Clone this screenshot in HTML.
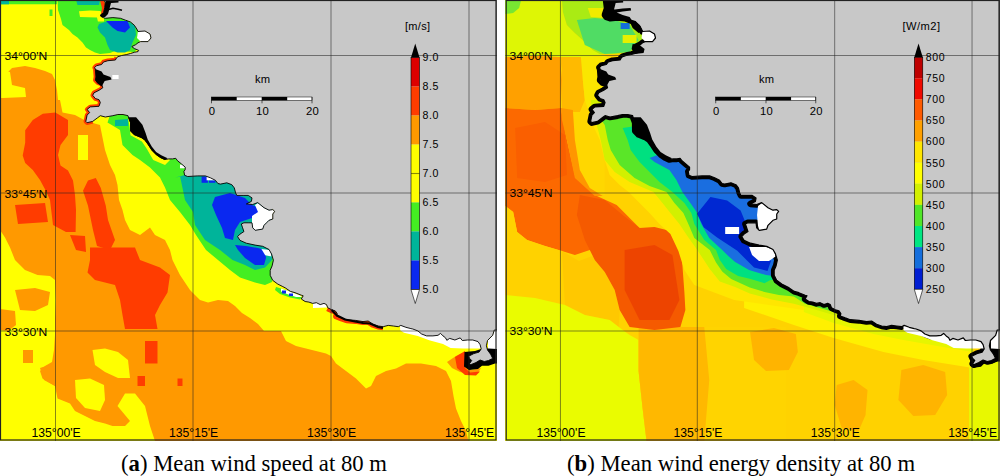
<!DOCTYPE html>
<html><head><meta charset="utf-8"><style>
html,body{margin:0;padding:0;background:#fff;}
body{width:1000px;height:476px;position:relative;overflow:hidden;font-family:"Liberation Sans",sans-serif;}
.map{position:absolute;font-family:"Liberation Sans",sans-serif;}
.cap{position:absolute;top:451px;font-family:"Liberation Serif",serif;font-size:22.7px;color:#000;white-space:nowrap;}
</style></head><body>
<svg class="map" style="left:0px;top:0px" width="497" height="441" viewBox="0 0 497 441">
<rect x="0" y="0" width="497" height="441" fill="#ff9900"/>
<polygon points="0,85 5,75 12,68 25,66 35,68 45,71 52,74 55,80 57,90 58,100 60,100 62.5,112.5 75,115 86,121 100,125 102.5,137.5 105,150 110,165 115,175 117.5,185 119,200 122.5,210 125,220 130,230 140,235 150,227.5 155,235 165,240 170,250 172.5,260 180,275 190,290 200,300 208,302.5 218,300 228,301 235,306 242,313 250,318 258,324 264,331 281,331 286,341 296,346 306,348.5 316,351 326,353.5 331,356 336,363.5 346,371 356,378.5 366,388.5 371,386 376,376 386,371 396,368.5 406,363.5 421,363.5 436,366 446,371 451,381 453.5,396 456,408.5 461,421 466,431 468.5,441 497,441 497,0 0,0" fill="#ffff00" />
<polygon points="0,230 5,237.5 10,247.5 15,260 25,270 37.5,275 50,276 55,280 56,300 55,320 55,335 54,350 52,362 45,366 40,371 42.5,378.5 55,386 57.5,398.5 70,403.5 75,411 85,416 95,421 105,423.5 112.5,426 125,426 130,421 117.5,406 125,393.5 135,393.5 145,406 150,426 155,441 0,441" fill="#ffff00" />
<polygon points="15,290 35,288 50,292 48,305 35,311 20,310" fill="#ff9900" />
<polygon points="0,309 15,311 16,325 8,331 0,330" fill="#ff9900" />
<polygon points="23,350 33,350 33,363 23,363" fill="#ff9900" />
<polygon points="40,368 52,364 56,372 55,386 44,380" fill="#ff9900" />
<polygon points="92.5,350 105,348.5 118,352 128,360 130,378 118,378 105,372 95,365" fill="#ffff00" />
<polygon points="75,380 90,378.5 104,385 105,400 100,411 85,408 76,398" fill="#ffff00" />
<polygon points="32.8,120 42.8,113.8 55.4,112.6 68,120 68,135 60.5,145 58,155 60.5,165.5 68,170.5 73,180.6 75,195 76,210 75.6,232 66,232 53,225 50,200 45.4,190 40,180 32.8,170 25.2,163 22.7,155.4 25.2,142.8 25.2,130.2" fill="#ff3c00" />
<polygon points="88,180.6 95.8,178 100.8,188 105.8,205.8 108,220 115,240 110,250 97,246 93,230 88,205.8 83,190.7" fill="#ff3c00" />
<polygon points="0,70 10,72 12,85 25,88 26,97 3,98 0,98" fill="#ffff00" />
<polygon points="78,135 88,135 88,160 78,160" fill="#ffff00" />
<polygon points="90,247.5 135,247.5 140,260 160,267.5 170,275 167.5,292.5 160,305 155,315 157.5,329 125,329 122.5,315 120,300 115,285 105,282.5 95,280 87.5,272.5 90,260" fill="#ff3c00" />
<polygon points="70,235 85,236 86,252 76,250" fill="#ff3c00" />
<polygon points="15,205 45,203 48,222 18,224" fill="#ff3c00" />
<polygon points="145,341 157.5,341 157.5,363.5 145,363.5" fill="#ff3c00" />
<polygon points="137.5,376 145,376 145,386 137.5,386" fill="#ff3c00" />
<polygon points="177.5,378.5 182.5,378.5 182.5,386 177.5,386" fill="#ff3c00" />
<polygon points="57.5,0 58,10 61,19 62.5,25 69,30 72.5,34 77.5,37.5 82.5,42.5 86,47.5 90,50 95,52.5 100,54 110,53 115,51 135,52 140,40 140,0" fill="#44ee22" />
<polygon points="76,0 100,0 99,5 77.5,5" fill="#00b49a" />
<polygon points="1,0.5 57,0.5 57,4.3 1,4.3" fill="#44ee22" />
<polygon points="1,0.5 9,0.5 9,4.3 1,4.3" fill="#00b49a" />
<polygon points="49.5,9.5 52.5,9.5 52.5,16 49.5,16" fill="#44ee22" />
<polygon points="79,11.3 90,10.5 100.4,11 104,17.6 104,21.4 97.9,21.4 97,17.6 80,17" fill="#ffff00" />
<polygon points="99,24 105,22 110,21 120,21 130,22.5 135,26 136,35 132.5,42.5 130,50 125,52.5 117.5,52.5 110,50 107.5,45 105,37.5 100,32.5 97.5,27.5" fill="#00b49a" />
<polygon points="106,21 127.5,21 130,27.5 125,32.5 117.5,31 112.5,27.5" fill="#0a28f0" />
<polygon points="107.5,122.5 120,130 122.5,145 132.5,155 140,160 150,167.5 160,177.5 165,187.5 170,200 180,212 190,225 196,235 206,250 218,260 230,270 240,277.5 255,282.5 265,285 272,282 280,250 260,200 200,170 150,140 130,115 110,115" fill="#44ee22" />
<polygon points="128,118 129.3,125.2 130.5,135.3 141.9,141.6 146.9,149 153.2,160 165,165 170,160 150,140 140,125 135,115" fill="#ffff00" />
<polygon points="115,120 128,119 128,126 115,126" fill="#00b49a" />
<polygon points="175,178 180,176 185,200 193,212 195,225 205,240 220,250 232.5,260 245,265 255,270 265,267.5 272,260 272,200 240,175 200,170" fill="#00b49a" />
<polygon points="215,197 230,193 245,198 252,205 260,208 260,215 252,218 240,222 235,230 233,240 225,238 222,228 216,215 212,205" fill="#0a28f0" />
<polygon points="235,245 246,246 258,248 265,250 266,258 264,265 255,265 245,258 238,250" fill="#0a28f0" />
<polygon points="201.6,176.5 207.9,176.5 207.9,182.8 201.6,182.8" fill="#0a28f0" />
<polygon points="209,180.3 215.4,180.3 215.4,182.8 209,182.8" fill="#0a28f0" />
<polygon points="138,31 145,31 150,34 151,38 148,41.6 140.6,41.6 137,38" fill="#ffffff" />
<polygon points="255,205 258,203 264,207.7 269,210.2 272.8,209.6 274.7,211.4 272.8,214 272.8,219 269,220.3 266.5,222.8 264,225.3 262.7,229.1 255.2,230.3 252.7,227.8 252,222.8 252,216 258,212" fill="#ffffff" />
<polygon points="261.4,248.9 270.2,250.1 271.5,256.4 265.2,255.2" fill="#ffffff" />
<polygon points="206.6,176.5 215.4,176.5 215.4,180.3 206.6,180.3" fill="#ffffff" />
<polygon points="180,164.6 185.8,164.6 185.8,168.3 180,168.3" fill="#ffffff" />
<polygon points="276,287 286,290 296,294 302,297 300,299.5 290,297.5 280,294 275,290" fill="#44ee22" />
<polygon points="281,288.5 290,291.5 300,295.5 302,297 296,297 287,294 281,291.5" fill="#ffffff" />
<polygon points="282,290.5 286,290.5 286,293.5 282,293.5" fill="#0a28f0" />
<polygon points="289,293.5 293,293.5 293,296 289,296" fill="#0a28f0" />
<polygon points="313,303 326,303 327,307.5 313,308" fill="#ffffff" />
<polygon points="400,325 420,325 446,330 480,335 481,348.5 463.2,348.5 450.6,347.9 443,344.1 429.2,340.3 417.8,335.9 404,332.7 400.2,330.2" fill="#ffffff" />
<polygon points="488,340 492.7,335.3 494.3,330 497,330 497,349 488,349" fill="#ffffff" />
<polygon points="447,362 456,356 460,354 466,352 467,366 472,370 481,368 478,373 470,374 460,372 452,368" fill="#ff9900" />
<polygon points="455,357 465,351 465,368 470,372.5 480,371.5 476,375.5 465,375 457,368" fill="#ff3c00" />
<polygon points="464.5,352 464,366.5 469,370 478,369 482,365.8 488.5,365.8 495,363.5 497,363.5 497,349 488.5,348.4 481,349 475,351" fill="#000000" />
<polyline points="116.7,57.6 115.4,60 107.9,60.7 103.5,62 101.6,64.5 96.5,65.7 94.6,67.6 95.3,69 95.9,77 95.3,80.2 97.8,82.7 101.6,84 102.8,87.8 99,90.3 94,92.8 92.7,95.3 95.3,98.5 99,99.7 100.3,102.5 99,106.3 90.2,106.9 87.1,109.4 89.6,112.6 87.1,115.1 85.8,121.4 87.1,122.7 92.7,121.4" fill="none" stroke="#ff3c00" stroke-width="4.5" stroke-linejoin="round"/>
<polyline points="102,0 104,8 103,14" fill="none" stroke="#ff3c00" stroke-width="4"/>
<polyline points="327.8,307.8 331.6,309.7 335.3,310.9 337.2,313.5 336.6,316 341.6,317.9 346.7,319.7 355.5,320.4 363,321.6 368.1,321 373.1,324.2 378.2,326 383.2,326.7" fill="none" stroke="#ff3c00" stroke-width="7" stroke-linejoin="round"/>
<polygon points="104,0 105.3,2.5 104.7,7.6 103.5,12.6 100.3,15.1 101.6,17 105.3,18.3 112.9,17.6 120.5,18.3 125.5,20.2 130.5,22 134.3,25.2 136.8,29 138,31.5 145,31 150,34 151,38 148,41.6 140.6,41.6 138,42.8 135.6,44.7 131.8,46.6 134.3,48.5 138.7,50.4 138,51.6 134.3,52.3 130.5,53.5 126.8,54.5 121.7,55.5 118,56.7 116.7,57.6 115.4,60 107.9,60.7 103.5,62 101.6,64.5 96.5,65.7 94.6,67.6 95.3,69 95.9,77 95.3,80.2 97.8,82.7 101.6,84 102.8,87.8 99,90.3 94,92.8 92.7,95.3 95.3,98.5 99,99.7 100.3,102.5 99,106.3 90.2,106.9 87.1,109.4 89.6,112.6 87.1,115.1 85.8,121.4 87.1,122.7 92.7,121.4 97.8,117.6 100.3,115.7 105.3,117 112.9,115.7 117.9,114.5 123,114.5 128,115.7 128.5,117.4 130.5,122.6 130.6,131 134.2,134.6 141.5,137.6 144.8,139.8 147.9,144 152,150.2 156.3,154.5 160.6,157.6 164.8,159.6 168.8,158.9 172.6,158.9 175.7,158.3 177.6,160.8 181.4,163.9 185.2,167.1 185.2,169.6 183.9,171.5 184.6,175.3 187.7,176.5 197.8,175.9 205.3,175.9 210.4,177.8 215.4,180.3 217.9,183.5 220.5,184.1 226.8,182.8 231.8,184.7 234.3,187.9 235.6,192.9 236.8,195.4 243.1,195.4 248.2,195.4 252,197.9 251.4,201.4 246.4,203.9 252.7,204.5 257.7,202.6 264,207.7 269,210.2 272.8,209.6 274.7,211.4 272.8,214 272.8,219 269,220.3 266.5,222.8 264,225.3 262.7,229.1 255.2,230.3 252.7,227.8 252,222.8 248.9,222.8 243.9,222.8 241.3,224 242.6,227.8 243.9,231.6 240,234.1 237.6,236.6 240,240.4 246.3,243.2 255.1,245.1 262.7,246.3 269,249.5 271.5,253.9 273.4,260.2 272.1,265.9 270.2,270.3 270.2,275.3 272.7,280.3 277.8,284.1 282.8,286.6 285.3,287.9 290.4,291.4 295,292.7 301.3,295.2 303.2,295.8 301.3,299 305.1,301.5 308.9,302.1 312.7,303.4 316.4,302.7 320.2,304.6 324,303.4 326.5,304.6 327.8,307.8 331.6,309.7 335.3,310.9 337.2,313.5 336.6,316 341.6,317.9 346.7,319.7 355.5,320.4 363,321.6 368.1,321 373.1,324.2 378.2,326 383.2,326.7 388.2,325.4 393.3,326 398.3,326.7 400.8,325.4 405.9,327.3 410.9,328.6 412.8,329 417.8,330.9 421.6,334 426.6,335.9 432.9,335.9 438,335.3 440.5,333.4 443,335.9 445.5,337.8 446.8,340.3 449.7,338.4 454.9,340 460.2,337.9 462.3,340.5 467.5,340 472.8,340 478,341.6 480.1,344.7 481.2,348.9 479.1,352.1 473.8,353.6 468.6,356.3 469.6,358.4 471.7,360.5 469.6,363.6 470.7,364.7 475.9,362.6 480.1,360 484.3,361.5 488.5,360.5 492.7,358.4 490.6,354.2 487.5,350 486.4,345.8 487.5,340.5 492.7,335.3 494.3,330 497,330 497,-1 104,-1" fill="#c8c8c8" stroke="#000" stroke-width="0.9"/>
<polygon points="106,0 118.5,0 118.5,2.5 111,3 109.7,8 108,13.9 105,17 101,17 100.3,15.1 103.5,12.6 104.7,7.6 105.3,2.5" fill="#000000" />
<polygon points="95.3,68.9 101.6,71.4 103.5,74.6 110.4,77 111.6,79.6 104.7,80.9 101.6,86.5 97,83 95.3,80.2 95.9,77" fill="#000000" />
<polygon points="112.3,75 118.6,75 118.6,79 112.3,79" fill="#ffffff" />
<polyline points="108.5,9.5 113,8.2 118,9.2 122,10.3" fill="none" stroke="#000" stroke-width="1.6"/>
<polygon points="128,117.2 128.1,117.4 130.1,122.6 130.2,131 134,135 141.3,138 144.5,140.2 147.5,144.3 151.6,150.5 156,154.9 160.4,158 164.8,160.1 167.6,158.3 161.3,155.2 156.1,152 151.9,146.8 147.7,139.4 145.6,133.1 142.4,124.7 136.1,117.2" fill="#000000" />
<polyline points="331.6,310 337,315.5 345,319.5 355,321.5 363,323 370,323.5 378,327 383,328" fill="none" stroke="#000" stroke-width="2.2"/>
<line x1="55.5" y1="0" x2="55.5" y2="441" stroke="#222" stroke-width="0.9" opacity="0.6"/>
<line x1="193" y1="0" x2="193" y2="441" stroke="#222" stroke-width="0.9" opacity="0.6"/>
<line x1="331" y1="0" x2="331" y2="441" stroke="#222" stroke-width="0.9" opacity="0.6"/>
<line x1="469" y1="0" x2="469" y2="441" stroke="#222" stroke-width="0.9" opacity="0.6"/>
<line x1="0" y1="55.5" x2="497" y2="55.5" stroke="#222" stroke-width="0.9" opacity="0.6"/>
<line x1="0" y1="193" x2="497" y2="193" stroke="#222" stroke-width="0.9" opacity="0.6"/>
<line x1="0" y1="331" x2="497" y2="331" stroke="#222" stroke-width="0.9" opacity="0.6"/>
<text x="4.4" y="60.0" font-size="11.4" textLength="43" lengthAdjust="spacingAndGlyphs">34°00'N</text>
<text x="4.4" y="197.5" font-size="11.4" textLength="43" lengthAdjust="spacingAndGlyphs">33°45'N</text>
<text x="4.4" y="335.5" font-size="11.4" textLength="43" lengthAdjust="spacingAndGlyphs">33°30'N</text>
<text x="56.1" y="436.8" font-size="12.2" text-anchor="middle">135°00'E</text>
<text x="193.6" y="436.8" font-size="12.2" text-anchor="middle">135°15'E</text>
<text x="331.6" y="436.8" font-size="12.2" text-anchor="middle">135°30'E</text>
<text x="469.6" y="436.8" font-size="12.2" text-anchor="middle">135°45'E</text>
<rect x="411" y="57.5" width="8.5" height="29" fill="#dd0000"/>
<rect x="411" y="86.5" width="8.5" height="29" fill="#ff3c00"/>
<rect x="411" y="115.5" width="8.5" height="29" fill="#ff9900"/>
<rect x="411" y="144.5" width="8.5" height="29" fill="#ffff00"/>
<rect x="411" y="173.5" width="8.5" height="29" fill="#ffff00"/>
<rect x="411" y="202.5" width="8.5" height="29" fill="#44ee22"/>
<rect x="411" y="231.5" width="8.5" height="29" fill="#00b49a"/>
<rect x="411" y="260.5" width="8.5" height="29" fill="#0a28f0"/>
<line x1="411" y1="173.5" x2="419.5" y2="173.5" stroke="#8a8a00" stroke-width="1.1"/>
<rect x="411" y="57.5" width="8.5" height="232" fill="none" stroke="#000" stroke-width="0.6"/>
<polygon points="411,57.5 415.25,43.5 419.5,57.5" fill="#000"/>
<polygon points="411,289.5 415.25,303.5 419.5,289.5" fill="#fff" stroke="#000" stroke-width="0.6"/>
<text x="422.6" y="61.4" font-size="10.6" letter-spacing="0.55">9.0</text>
<text x="422.6" y="90.4" font-size="10.6" letter-spacing="0.55">8.5</text>
<text x="422.6" y="119.4" font-size="10.6" letter-spacing="0.55">8.0</text>
<text x="422.6" y="148.4" font-size="10.6" letter-spacing="0.55">7.5</text>
<text x="422.6" y="177.4" font-size="10.6" letter-spacing="0.55">7.0</text>
<text x="422.6" y="206.4" font-size="10.6" letter-spacing="0.55">6.5</text>
<text x="422.6" y="235.4" font-size="10.6" letter-spacing="0.55">6.0</text>
<text x="422.6" y="264.4" font-size="10.6" letter-spacing="0.55">5.5</text>
<text x="422.6" y="293.4" font-size="10.6" letter-spacing="0.55">5.0</text>
<text x="405" y="29.7" font-size="11" letter-spacing="0.3">[m/s]</text>
<rect x="211.5" y="97" width="100.5" height="3.3" fill="#fff" stroke="#000" stroke-width="0.5"/>
<rect x="211.5" y="97" width="25.2" height="3.3" fill="#000"/>
<rect x="262.0" y="97" width="25.2" height="3.3" fill="#000"/>
<line x1="211.5" y1="97" x2="211.5" y2="103.3" stroke="#000" stroke-width="0.6"/>
<line x1="262.0" y1="97" x2="262.0" y2="103.3" stroke="#000" stroke-width="0.6"/>
<line x1="312.0" y1="97" x2="312.0" y2="103.3" stroke="#000" stroke-width="0.6"/>
<text x="262.5" y="83.2" font-size="11.2" text-anchor="middle">km</text>
<text x="212.0" y="114.7" font-size="11.3" letter-spacing="0.3" text-anchor="middle">0</text>
<text x="262.5" y="114.7" font-size="11.3" letter-spacing="0.3" text-anchor="middle">10</text>
<text x="312.5" y="114.7" font-size="11.3" letter-spacing="0.3" text-anchor="middle">20</text>
<rect x="0.5" y="0.5" width="495.5" height="439.5" fill="none" stroke="#222" stroke-width="1.2"/>
</svg>
<svg class="map" style="left:0px;top:0px" width="1000" height="441" viewBox="0 0 1000 441">
<g transform="translate(505.2,0) scale(0.9954,1)">
<clipPath id="rc"><rect x="0" y="0" width="497" height="441"/></clipPath>
<g clip-path="url(#rc)">
<rect x="-2" y="0" width="500" height="441" fill="#ffd200"/>
<polygon points="0,0 57,0 58,12 62,25 70,33 80,42 88,50 95,54 100,56 75,58 55,57 30,56 0,57" fill="#def605" />
<polygon points="0,0 16,0 14,8 8,13 0,14" fill="#78e632" />
<polygon points="0,57 30,56 55,57 57,80 56,108 30,110 0,108" fill="#ffa000" />
<polygon points="55,57 75,58 100,56 110,60 100,110 90,114 88,125 100,150 100,195 75,185 60,150 58,110 57,70" fill="#ffd700" />
<polygon points="55,57 78,57 78,80 80,100 75,112 57,112 57,70" fill="#ffba00" />
<polygon points="76,57 100,56 110,60 100,110 90,114 86,118 80,100 78,80" fill="#fae600" />
<polygon points="0,108 30,110 56,108 58,120 62,140 70,175 90,195 112,205 125,218 135,228 118,232 100,240 85,250 70,255 57,251 40,246 22,240 12,232 8,212 0,206" fill="#fc6900" />
<polygon points="10,128 40,122 60,135 62,175 40,182 12,178" fill="#fa5f00" />
<polygon points="56,108 68,110 70,140 75,170 85,188 98,196 90,196 70,178 62,140 57,120" fill="#ff9600" />
<polygon points="0,206 8,212 12,232 22,240 40,246 57,251 60,270 57,310 0,310" fill="#ffd200" />
<polygon points="57,251 74,261 90,255 94,261 100,272 110,290 115,310 114,327 105,320 80,315 60,305" fill="#ffc800" />
<polygon points="0,295 30,298 60,305 80,315 105,320 114,327 125,335 134,340 134,371 138,408 142,441 0,441" fill="#eafc00" />
<polygon points="134,327 200,327 282,327 282,441 142,441 138,408 134,371" fill="#ffd400" />
<polygon points="134,327 200,327 205,380 200,441 142,441 138,408 134,371" fill="#ffb800" />
<polygon points="246,332 270,328 292,334 294,352 285,370 262,371 250,360" fill="#ffb400" />
<polygon points="333,385 350,380 364,390 362,415 355,431 338,428 331,405" fill="#ffb400" />
<polygon points="398,370 420,365 442,372 444,395 432,415 410,416 395,400" fill="#ffb400" />
<polygon points="466,360 497,350 497,441 466,441" fill="#e8f800" />
<polygon points="240,285 290,300 330,312 380,326 420,334 470,345 470,368 420,360 380,352 330,338 290,325 240,308" fill="#fff000" />
<polygon points="300,300 330,311 370,322 400,328 440,336 470,342 470,352 440,347 400,340 370,334 330,323 300,312" fill="#e6f500" />
<polygon points="75,195 100,200 118,215 135,228 150,227 170,232 176,245 178,265 180,292 181,310 176,327 150,330 125,327 115,310 110,290 100,272 90,260 80,240 72,215" fill="#f55a00" />
<polygon points="120,250 150,245 168,255 175,300 165,320 135,320 120,290" fill="#ed4400" />
<polygon points="88,125 95,140 100,160 105,175 115,185 124,192 135,203 145,213 155,224 166,234 174,251 180,270 190,285 230,300 300,310 300,100 88,100" fill="#ffe600" />
<polygon points="86,118 92,125 96,140 100,160 110,172 125,182 149,192 158,203 166,213 175,224 183,236 193,250 205.5,269 215.6,281.5 231,287 245.7,293.5 267.8,299.4 290,303.8 312,309.7 340,318 340,100 86,100" fill="#d2f000" />
<polygon points="95,118 100,125 103,140 106,150 115,165 130,178 145,186 162,192 170,203 179,213 184,224 190,238 205.5,250 211.8,262.6 218,271.4 227,279 245.7,287.6 260.5,292 275,295 290,296.5 301,303.8 330,312 330,100" fill="#5ae628" />
<polygon points="118,128 123,140 126,150 135,162 145,172 155,182 168,192 180,203 187,213 190,224 200,240 211.8,250 215.6,260 222,269 234,276 245.7,278.8 260.5,283.2 266,280.3 272,279 300,100" fill="#00e080" />
<polygon points="145,158 150,162 165,170 172,180 178,192 186,203 193,213 197,224 205,238 218,250 224.4,256.3 231,262 245,270 262,275 270,276 300,100" fill="#1a6ee0" />
<polygon points="192.7,213.8 206.2,197 223,200.4 236.5,210.5 243.3,227.3 250,244 267,260.9 263.5,271 250,267.6 233.2,250.8 212.9,237.4 199.4,227.3" fill="#0028d2" />
<polygon points="57,0 58,12 62,25 70,33 80,42 88,50 95,54 110,54 140,50 140,0" fill="#aaeb14" />
<polygon points="72,20 90,18 110,20 125,25 134,40 125,52 100,54 80,45" fill="#50dc64" />
<polygon points="83,8 99,8 100,18 86,17" fill="#f0eb00" />
<polygon points="116,23 125,23 125,29 116,29" fill="#146edc" />
<polygon points="118,35 132,35 132,43 118,43" fill="#e6f000" />
<polygon points="104,0 105.3,2.5 104.7,7.6 103.5,12.6 100.3,15.1 101.6,17 105.3,18.3 112.9,17.6 120.5,18.3 125.5,20.2 130.5,22 134.3,25.2 136.8,29 138,31.5 145,31 150,34 151,38 148,41.6 140.6,41.6 138,42.8 135.6,44.7 131.8,46.6 134.3,48.5 138.7,50.4 138,51.6 134.3,52.3 130.5,53.5 126.8,54.5 121.7,55.5 118,56.7 116.7,57.6 115.4,60 107.9,60.7 103.5,62 101.6,64.5 96.5,65.7 94.6,67.6 95.3,69 95.9,77 95.3,80.2 97.8,82.7 101.6,84 102.8,87.8 99,90.3 94,92.8 92.7,95.3 95.3,98.5 99,99.7 100.3,102.5 99,106.3 90.2,106.9 87.1,109.4 89.6,112.6 87.1,115.1 85.8,121.4 87.1,122.7 92.7,121.4 97.8,117.6 100.3,115.7 105.3,117 112.9,115.7 117.9,114.5 123,114.5 128,115.7 128.5,117.4 130.5,122.6 130.6,131 134.2,134.6 141.5,137.6 144.8,139.8 147.9,144 152,150.2 156.3,154.5 160.6,157.6 164.8,159.6 168.8,158.9 172.6,158.9 175.7,158.3 177.6,160.8 181.4,163.9 185.2,167.1 185.2,169.6 183.9,171.5 184.6,175.3 187.7,176.5 197.8,175.9 205.3,175.9 210.4,177.8 215.4,180.3 217.9,183.5 220.5,184.1 226.8,182.8 231.8,184.7 234.3,187.9 235.6,192.9 236.8,195.4 243.1,195.4 248.2,195.4 252,197.9 251.4,201.4 246.4,203.9 252.7,204.5 257.7,202.6 264,207.7 269,210.2 272.8,209.6 274.7,211.4 272.8,214 272.8,219 269,220.3 266.5,222.8 264,225.3 262.7,229.1 255.2,230.3 252.7,227.8 252,222.8 248.9,222.8 243.9,222.8 241.3,224 242.6,227.8 243.9,231.6 240,234.1 237.6,236.6 240,240.4 246.3,243.2 255.1,245.1 262.7,246.3 269,249.5 271.5,253.9 273.4,260.2 272.1,265.9 270.2,270.3 270.2,275.3 272.7,280.3 277.8,284.1 282.8,286.6 285.3,287.9 290.4,291.4 295,292.7 301.3,295.2 303.2,295.8 301.3,299 305.1,301.5 308.9,302.1 312.7,303.4 316.4,302.7 320.2,304.6 324,303.4 326.5,304.6 327.8,307.8 331.6,309.7 335.3,310.9 337.2,313.5 336.6,316 341.6,317.9 346.7,319.7 355.5,320.4 363,321.6 368.1,321 373.1,324.2 378.2,326 383.2,326.7 388.2,325.4 393.3,326 398.3,326.7 400.8,325.4 405.9,327.3 410.9,328.6 412.8,329 417.8,330.9 421.6,334 426.6,335.9 432.9,335.9 438,335.3 440.5,333.4 443,335.9 445.5,337.8 446.8,340.3 449.7,338.4 454.9,340 460.2,337.9 462.3,340.5 467.5,340 472.8,340 478,341.6 480.1,344.7 481.2,348.9 479.1,352.1 473.8,353.6 468.6,356.3 469.6,358.4 471.7,360.5 469.6,363.6 470.7,364.7 475.9,362.6 480.1,360 484.3,361.5 488.5,360.5 492.7,358.4 490.6,354.2 487.5,350 486.4,345.8 487.5,340.5 492.7,335.3 494.3,330 497,330 497,-1 104,-1" fill="#000" stroke="#000" stroke-width="6.5" stroke-linejoin="round"/>
<polygon points="138,31 145,31 150,34 151,38 148,41.6 140.6,41.6 137,38" fill="#ffffff" />
<polygon points="254,206 258,203 264,207.7 269,210.2 272.8,209.6 274.7,211.4 272.8,214 272.8,219 269,220.3 266.5,222.8 264,225.3 262.7,229.1 255.2,230.3 254,226 253,215" fill="#ffffff" />
<polygon points="221,227 235,227 235,234 221,234" fill="#ffffff" />
<polygon points="245,247 262,247 270.2,250.1 271.5,256.4 265,261 255,261 248,255" fill="#ffffff" />
<polygon points="400,325 420,325 446,330 480,335 481,348.5 463.2,348.5 450.6,347.9 443,344.1 429.2,340.3 417.8,335.9 404,332.7 400.2,330.2" fill="#ffffff" />
<polygon points="488,340 492.7,335.3 494.3,330 497,330 497,349 488,349" fill="#ffffff" />
<polygon points="467.5,353 467,365.7 470.7,367.8 478,366.8 481.2,363.6 488.5,363.6 494.8,361.5 497,361.5 497,349 488.5,348.4 481,349 475,352" fill="#000000" />
<polygon points="104,0 105.3,2.5 104.7,7.6 103.5,12.6 100.3,15.1 101.6,17 105.3,18.3 112.9,17.6 120.5,18.3 125.5,20.2 130.5,22 134.3,25.2 136.8,29 138,31.5 145,31 150,34 151,38 148,41.6 140.6,41.6 138,42.8 135.6,44.7 131.8,46.6 134.3,48.5 138.7,50.4 138,51.6 134.3,52.3 130.5,53.5 126.8,54.5 121.7,55.5 118,56.7 116.7,57.6 115.4,60 107.9,60.7 103.5,62 101.6,64.5 96.5,65.7 94.6,67.6 95.3,69 95.9,77 95.3,80.2 97.8,82.7 101.6,84 102.8,87.8 99,90.3 94,92.8 92.7,95.3 95.3,98.5 99,99.7 100.3,102.5 99,106.3 90.2,106.9 87.1,109.4 89.6,112.6 87.1,115.1 85.8,121.4 87.1,122.7 92.7,121.4 97.8,117.6 100.3,115.7 105.3,117 112.9,115.7 117.9,114.5 123,114.5 128,115.7 128.5,117.4 130.5,122.6 130.6,131 134.2,134.6 141.5,137.6 144.8,139.8 147.9,144 152,150.2 156.3,154.5 160.6,157.6 164.8,159.6 168.8,158.9 172.6,158.9 175.7,158.3 177.6,160.8 181.4,163.9 185.2,167.1 185.2,169.6 183.9,171.5 184.6,175.3 187.7,176.5 197.8,175.9 205.3,175.9 210.4,177.8 215.4,180.3 217.9,183.5 220.5,184.1 226.8,182.8 231.8,184.7 234.3,187.9 235.6,192.9 236.8,195.4 243.1,195.4 248.2,195.4 252,197.9 251.4,201.4 246.4,203.9 252.7,204.5 257.7,202.6 264,207.7 269,210.2 272.8,209.6 274.7,211.4 272.8,214 272.8,219 269,220.3 266.5,222.8 264,225.3 262.7,229.1 255.2,230.3 252.7,227.8 252,222.8 248.9,222.8 243.9,222.8 241.3,224 242.6,227.8 243.9,231.6 240,234.1 237.6,236.6 240,240.4 246.3,243.2 255.1,245.1 262.7,246.3 269,249.5 271.5,253.9 273.4,260.2 272.1,265.9 270.2,270.3 270.2,275.3 272.7,280.3 277.8,284.1 282.8,286.6 285.3,287.9 290.4,291.4 295,292.7 301.3,295.2 303.2,295.8 301.3,299 305.1,301.5 308.9,302.1 312.7,303.4 316.4,302.7 320.2,304.6 324,303.4 326.5,304.6 327.8,307.8 331.6,309.7 335.3,310.9 337.2,313.5 336.6,316 341.6,317.9 346.7,319.7 355.5,320.4 363,321.6 368.1,321 373.1,324.2 378.2,326 383.2,326.7 388.2,325.4 393.3,326 398.3,326.7 400.8,325.4 405.9,327.3 410.9,328.6 412.8,329 417.8,330.9 421.6,334 426.6,335.9 432.9,335.9 438,335.3 440.5,333.4 443,335.9 445.5,337.8 446.8,340.3 449.7,338.4 454.9,340 460.2,337.9 462.3,340.5 467.5,340 472.8,340 478,341.6 480.1,344.7 481.2,348.9 479.1,352.1 473.8,353.6 468.6,356.3 469.6,358.4 471.7,360.5 469.6,363.6 470.7,364.7 475.9,362.6 480.1,360 484.3,361.5 488.5,360.5 492.7,358.4 490.6,354.2 487.5,350 486.4,345.8 487.5,340.5 492.7,335.3 494.3,330 497,330 497,-1 104,-1" fill="#c8c8c8" stroke="#000" stroke-width="1.2" stroke-linejoin="round"/>
<polygon points="106,0 118.5,0 118.5,2.5 111,3 109.7,8 108,13.9 105,17 101,17 100.3,15.1 103.5,12.6 104.7,7.6 105.3,2.5" fill="#000000" />
<polygon points="95.3,68.9 101.6,71.4 103.5,74.6 110.4,77 111.6,79.6 104.7,80.9 101.6,86.5 97,83 95.3,80.2 95.9,77" fill="#000000" />
<polygon points="128,117.2 128.1,117.4 130.1,122.6 130.2,131 134,135 141.3,138 144.5,140.2 147.5,144.3 151.6,150.5 156,154.9 160.4,158 164.8,160.1 167.6,158.3 161.3,155.2 156.1,152 151.9,146.8 147.7,139.4 145.6,133.1 142.4,124.7 136.1,117.2" fill="#000000" />
<polygon points="98,0 108,0 108,3 106,8 110,9.5 118,8.5 126,8 126.5,10.5 118,11.5 112,12.5 118,15 125,17 127,20 115,21 100,19 97,14 99,8" fill="#000000" />
<polygon points="124,19 131,21 136,26 138,31 134,33 128,28" fill="#000000" />
<polygon points="128,44 135,45 140,49 139,53 130,54 127,49" fill="#000000" />
<line x1="55.5" y1="0" x2="55.5" y2="441" stroke="#222" stroke-width="0.9" opacity="0.6"/>
<line x1="193" y1="0" x2="193" y2="441" stroke="#222" stroke-width="0.9" opacity="0.6"/>
<line x1="331" y1="0" x2="331" y2="441" stroke="#222" stroke-width="0.9" opacity="0.6"/>
<line x1="469" y1="0" x2="469" y2="441" stroke="#222" stroke-width="0.9" opacity="0.6"/>
<line x1="0" y1="55.5" x2="497" y2="55.5" stroke="#222" stroke-width="0.9" opacity="0.6"/>
<line x1="0" y1="193" x2="497" y2="193" stroke="#222" stroke-width="0.9" opacity="0.6"/>
<line x1="0" y1="331" x2="497" y2="331" stroke="#222" stroke-width="0.9" opacity="0.6"/>
</g>
<text x="4.4" y="60.0" font-size="11.4" textLength="43" lengthAdjust="spacingAndGlyphs">34°00'N</text>
<text x="4.4" y="197.5" font-size="11.4" textLength="43" lengthAdjust="spacingAndGlyphs">33°45'N</text>
<text x="4.4" y="335.5" font-size="11.4" textLength="43" lengthAdjust="spacingAndGlyphs">33°30'N</text>
<text x="56.1" y="436.8" font-size="12.2" text-anchor="middle">135°00'E</text>
<text x="193.6" y="436.8" font-size="12.2" text-anchor="middle">135°15'E</text>
<text x="331.6" y="436.8" font-size="12.2" text-anchor="middle">135°30'E</text>
<text x="469.6" y="436.8" font-size="12.2" text-anchor="middle">135°45'E</text>
<rect x="410.9905565601768" y="57.2" width="8.5" height="21.1" fill="#be0000"/>
<rect x="410.9905565601768" y="78.30000000000001" width="8.5" height="21.1" fill="#f00a00"/>
<rect x="410.9905565601768" y="99.4" width="8.5" height="21.1" fill="#ff5a00"/>
<rect x="410.9905565601768" y="120.5" width="8.5" height="21.1" fill="#ffa000"/>
<rect x="410.9905565601768" y="141.60000000000002" width="8.5" height="21.1" fill="#ffe600"/>
<rect x="410.9905565601768" y="162.7" width="8.5" height="21.1" fill="#ffff00"/>
<rect x="410.9905565601768" y="183.8" width="8.5" height="21.1" fill="#d2f000"/>
<rect x="410.9905565601768" y="204.90000000000003" width="8.5" height="21.1" fill="#50e628"/>
<rect x="410.9905565601768" y="226.0" width="8.5" height="21.1" fill="#00e682"/>
<rect x="410.9905565601768" y="247.10000000000002" width="8.5" height="21.1" fill="#146edc"/>
<rect x="410.9905565601768" y="268.2" width="8.5" height="21.1" fill="#001ed2"/>
<rect x="410.9905565601768" y="57.2" width="8.5" height="232.10000000000002" fill="none" stroke="#000" stroke-width="0.6"/>
<polygon points="410.9905565601768,57.2 415.2405565601768,43.5 419.4905565601768,57.2" fill="#000"/>
<polygon points="410.9905565601768,289.3 415.2405565601768,303.5 419.4905565601768,289.3" fill="#fff" stroke="#000" stroke-width="0.6"/>
<text x="422.5905565601768" y="61.1" font-size="10.6" letter-spacing="0.55">800</text>
<text x="422.5905565601768" y="82.20000000000002" font-size="10.6" letter-spacing="0.55">750</text>
<text x="422.5905565601768" y="103.30000000000001" font-size="10.6" letter-spacing="0.55">700</text>
<text x="422.5905565601768" y="124.4" font-size="10.6" letter-spacing="0.55">650</text>
<text x="422.5905565601768" y="145.50000000000003" font-size="10.6" letter-spacing="0.55">600</text>
<text x="422.5905565601768" y="166.6" font-size="10.6" letter-spacing="0.55">550</text>
<text x="422.5905565601768" y="187.70000000000002" font-size="10.6" letter-spacing="0.55">500</text>
<text x="422.5905565601768" y="208.80000000000004" font-size="10.6" letter-spacing="0.55">450</text>
<text x="422.5905565601768" y="229.9" font-size="10.6" letter-spacing="0.55">400</text>
<text x="422.5905565601768" y="251.00000000000003" font-size="10.6" letter-spacing="0.55">350</text>
<text x="422.5905565601768" y="272.09999999999997" font-size="10.6" letter-spacing="0.55">300</text>
<text x="422.5905565601768" y="293.2" font-size="10.6" letter-spacing="0.55">250</text>
<text x="399.1905565601768" y="30.5" font-size="11.2" letter-spacing="0.45">[W/m2]</text>
<rect x="211.5" y="97" width="100.5" height="3.3" fill="#fff" stroke="#000" stroke-width="0.5"/>
<rect x="211.5" y="97" width="25.2" height="3.3" fill="#000"/>
<rect x="262.0" y="97" width="25.2" height="3.3" fill="#000"/>
<line x1="211.5" y1="97" x2="211.5" y2="103.3" stroke="#000" stroke-width="0.6"/>
<line x1="262.0" y1="97" x2="262.0" y2="103.3" stroke="#000" stroke-width="0.6"/>
<line x1="312.0" y1="97" x2="312.0" y2="103.3" stroke="#000" stroke-width="0.6"/>
<text x="262.5" y="83.2" font-size="11.2" text-anchor="middle">km</text>
<text x="212.0" y="114.7" font-size="11.3" letter-spacing="0.3" text-anchor="middle">0</text>
<text x="262.5" y="114.7" font-size="11.3" letter-spacing="0.3" text-anchor="middle">10</text>
<text x="312.5" y="114.7" font-size="11.3" letter-spacing="0.3" text-anchor="middle">20</text>
<rect x="1" y="0.5" width="495.1" height="439.5" fill="none" stroke="#222" stroke-width="1.2"/>
</g>
</svg>
<div class="cap" style="left:121px">(<b>a</b>) Mean wind speed at 80 m</div>
<div class="cap" style="left:567px">(<b>b</b>) Mean wind energy density at 80 m</div>
</body></html>
